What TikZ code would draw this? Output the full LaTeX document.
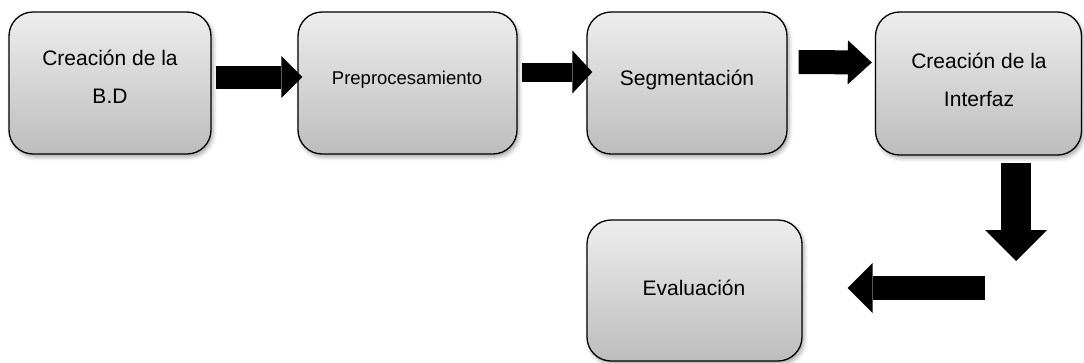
\documentclass[tikz,border=0pt]{standalone}
\usepackage{fontspec}
\setmainfont{Liberation Sans}
\usetikzlibrary{arrows.meta,calc,shadows.blur}

\tikzset{
  stage/.style={
    draw=black, line width=1.3pt, rounded corners=24pt,
    top color=black!7, bottom color=black!26,
    blur shadow={shadow xshift=2pt, shadow yshift=-3pt,
                 shadow blur radius=4pt, shadow opacity=35},
    inner sep=0pt
  },
  stagetext/.style={align=center, font=\fontsize{21}{38}\selectfont, inner sep=0pt},
  smalltext/.style={align=center, font=\fontsize{18.5}{30}\selectfont, inner sep=0pt},
  flow/.style={draw=black, line cap=butt},
}

\begin{document}
\begin{tikzpicture}[x=1pt, y=-1pt]
  \useasboundingbox (0,0) rectangle (1084,362);

  % process stages
  \node[stage, minimum width=202pt, minimum height=142pt] (b1) at (110,83) {};
  \node[stage, minimum width=219pt, minimum height=142pt] (b2) at (407.5,83) {};
  \node[stage, minimum width=200pt, minimum height=142pt] (b3) at (687,83) {};
  \node[stage, minimum width=206pt, minimum height=143pt] (b4) at (978.5,83.5) {};
  \node[stage, minimum width=215pt, minimum height=141pt] (b5) at (694.5,290.5) {};

  % stage captions
  \node[stagetext] (t1) at (110,77) {Creación de la\\B.D};
  \node[smalltext] (t2) at (407,80) {Preprocesamiento};
  \node[stagetext] (t3) at (687,80) {Segmentación};
  \node[stagetext] (t4) at (979,80) {Creación de la\\Interfaz};
  \node[stagetext] (t5) at (694,288) {Evaluación};

  % corner where the flow turns back to the left
  \coordinate (turn) at (1016,288);

  % block arrows between stages
  \draw[flow, line width=23pt, -{Triangle[length=21pt, width=42pt, line width=0pt]}]
    ($(b1.east)+(4,-6)$) -- ($(b2.west)+(5,-6)$);
  \draw[flow, line width=19pt, -{Triangle[length=20pt, width=43pt, line width=0pt]}]
    ($(b2.east)+(4,-11)$) -- ($(b3.west)+(6,-11)$);
  \draw[flow, line width=24pt, -{Triangle[length=24pt, width=44pt, line width=0pt]}]
    ($(b3.east)+(11,-21)$) -- ($(b4.west)+(-3,-21)$);
  \draw[flow, line width=30pt, -{Triangle[length=31pt, width=62pt, line width=0pt]}]
    ($(b4.south -| turn)+(0,7)$) -- ($(turn)+(0,-27)$);
  \draw[flow, line width=24pt, -{Triangle[length=25pt, width=50pt, line width=0pt]}]
    ($(turn)+(-31,0)$) -- ($(b5.east)+(45,-2.5)$);
\end{tikzpicture}
\end{document}
